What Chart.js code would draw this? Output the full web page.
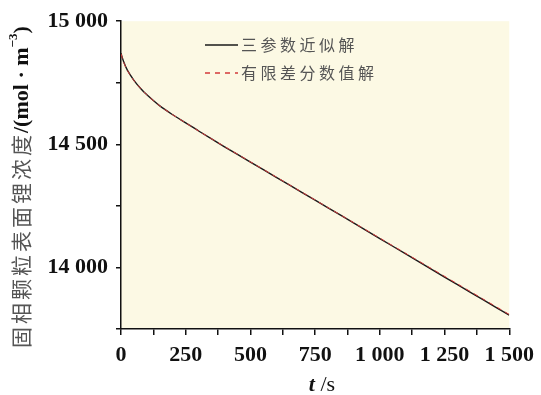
<!DOCTYPE html>
<html>
<head>
<meta charset="utf-8">
<script src="https://cdn.jsdelivr.net/npm/chart.js@4.4.1/dist/chart.umd.min.js"></script>
<style>
  html, body { margin: 0; padding: 0; background: #fff; }
  canvas { display: block; }
</style>
</head>
<body>
<canvas id="lineChart" width="541" height="395"></canvas>
<script>
// --- DATA --- //
const times = [0, 10, 25, 50, 75, 100, 150, 200, 250, 300, 400, 500, 600, 700, 800, 900, 1000, 1100, 1200, 1300, 1400, 1500];
const threeParam = [14870, 14836, 14800, 14760, 14728, 14701, 14656, 14620, 14587, 14554, 14490, 14428, 14366, 14304, 14242, 14180, 14117, 14055, 13992, 13930, 13868, 13806];
const finiteDiff = [14868, 14834, 14799, 14759, 14728, 14701, 14656, 14620, 14587, 14554, 14491, 14429, 14367, 14305, 14243, 14181, 14119, 14057, 13995, 13933, 13871, 13809];
const seriesNames = ["三参数近似解", "有限差分数值解"];
const xTicks = [0, 250, 500, 750, 1000, 1250, 1500];
const yTicks = [14000, 14500, 15000];

const SERIF = '"Liberation Serif", "Times New Roman", serif';
const CJK = '"Noto Sans CJK SC", sans-serif';

function fmt(v) {
  return String(v).replace(/\B(?=(\d{3})+(?!\d))/g, " ");
}

// --- PLUGIN: latar area plot, legend, judul sumbu --- //
const decor = {
  id: "decor",
  beforeDraw(chart) {
    const { ctx, chartArea: a } = chart;
    ctx.save();
    ctx.fillStyle = "#FCF9E4";
    ctx.fillRect(a.left, a.top, a.right - a.left, a.bottom - a.top);
    ctx.restore();
  },
  afterDraw(chart) {
    const ctx = chart.ctx;
    const ds = chart.data.datasets;
    ctx.save();

    // legend
    const rows = [45, 73];
    rows.forEach((y, i) => {
      ctx.beginPath();
      ctx.strokeStyle = ds[i].borderColor;
      ctx.lineWidth = 1.5;
      ctx.setLineDash(i === 1 ? [5, 5] : []);
      ctx.moveTo(205, y);
      ctx.lineTo(238, y);
      ctx.stroke();
      ctx.setLineDash([]);
      ctx.fillStyle = "#555";
      ctx.font = "16px " + CJK;
      ctx.letterSpacing = "3.5px";
      ctx.textBaseline = "middle";
      ctx.textAlign = "left";
      ctx.fillText(ds[i].label, 241, y);
      ctx.letterSpacing = "0px";
    });

    // judul sumbu x
    ctx.textBaseline = "middle";
    ctx.font = "italic bold 22px " + SERIF;
    const wT = ctx.measureText("t").width;
    ctx.font = "22px " + SERIF;
    const wS = ctx.measureText(" /s").width;
    let x0 = 322 - (wT + wS) / 2;
    ctx.fillStyle = "#111";
    ctx.font = "italic bold 22px " + SERIF;
    ctx.fillText("t", x0, 385);
    ctx.font = "22px " + SERIF;
    ctx.fillText(" /s", x0 + wT, 385);

    // judul sumbu y (diputar)
    ctx.translate(21, 348);
    ctx.rotate(-Math.PI / 2);
    let px = 0;
    ctx.font = "21px " + CJK;
    ctx.letterSpacing = "3px";
    ctx.fillStyle = "#555";
    ctx.fillText("固相颗粒表面锂浓度", px, 0);
    px += ctx.measureText("固相颗粒表面锂浓度").width - 1;
    ctx.letterSpacing = "0px";
    ctx.fillStyle = "#111";
    ctx.font = "bold 22px " + SERIF;
    ctx.fillText("/(mol · m", px, 1);
    px += ctx.measureText("/(mol · m").width;
    ctx.font = "bold 13px " + SERIF;
    ctx.fillText("−3", px, -7);
    px += ctx.measureText("−3").width;
    ctx.font = "bold 22px " + SERIF;
    ctx.fillText(")", px, 1);
    ctx.restore();
  }
};

// --- CHART --- //
const ctx = document.getElementById("lineChart");
new Chart(ctx, {
  type: "line",
  data: {
    datasets: [
      {
        label: seriesNames[0],
        data: times.map((t, i) => ({ x: t, y: threeParam[i] })),
        borderColor: "#1a1a1a",
        borderWidth: 1.4,
        pointRadius: 0,
        tension: 0.3,
        order: 1
      },
      {
        label: seriesNames[1],
        data: times.map((t, i) => ({ x: t, y: finiteDiff[i] })),
        borderColor: "#d23a3a",
        borderDash: [5, 4],
        borderWidth: 1,
        pointRadius: 0,
        tension: 0.3,
        order: 0
      }
    ]
  },
  options: {
    responsive: false,
    animation: false,
    devicePixelRatio: 1,
    layout: { padding: { left: 0, top: 19, right: 29, bottom: 0 } },
    plugins: { legend: { display: false }, tooltip: { enabled: false } },
    scales: {
      x: {
        type: "linear",
        min: 0,
        max: 1500,
        afterFit: s => { s.height = 66; },
        afterBuildTicks: s => {
          s.ticks = [];
          for (let v = 0; v <= 1500; v += 125) s.ticks.push({ value: v });
        },
        ticks: {
          autoSkip: false,
          maxRotation: 0,
          padding: 7,
          color: "#111",
          font: { family: SERIF, size: 22, weight: "bold" },
          callback: v => (xTicks.includes(v) ? fmt(v) : "")
        },
        grid: { drawOnChartArea: false, drawTicks: true, tickLength: 6, color: "#111", lineWidth: 1.5 },
        border: { display: true, color: "#111", width: 1.5 }
      },
      y: {
        min: 13750,
        max: 15000,
        afterFit: s => { s.width = 121; },
        afterBuildTicks: s => {
          s.ticks = [];
          for (let v = 13750; v <= 15000; v += 250) s.ticks.push({ value: v });
        },
        ticks: {
          autoSkip: false,
          padding: 8,
          color: "#111",
          font: { family: SERIF, size: 22, weight: "bold" },
          callback: v => (yTicks.includes(v) ? fmt(v) : "")
        },
        grid: { drawOnChartArea: false, drawTicks: true, tickLength: 5, color: "#111", lineWidth: 1.5 },
        border: { display: true, color: "#111", width: 1.5 }
      }
    }
  },
  plugins: [decor]
});
</script>
</body>
</html>
